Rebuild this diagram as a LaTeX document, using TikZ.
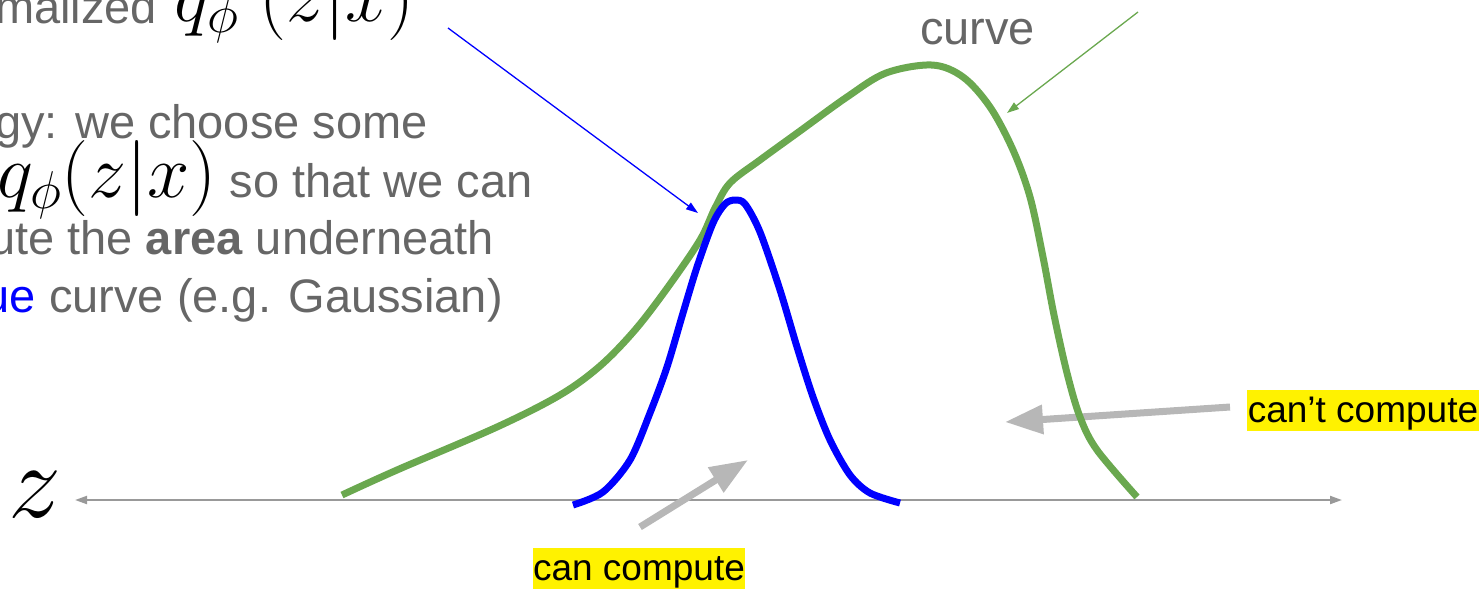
\RequirePackage{fix-cm}
\documentclass[tikz,border=0pt]{standalone}
\usepackage[no-math]{fontspec}
\setmainfont{Liberation Sans}
\usetikzlibrary{arrows.meta}

\definecolor{slidegreen}{HTML}{6AA84F}
\definecolor{slidegray}{HTML}{666666}
\definecolor{arrowgray}{HTML}{B7B7B7}
\definecolor{axisgray}{HTML}{999999}

\newcommand{\bigq}[1]{{\color{black}\fontsize{76}{90}\selectfont$#1$}}

\begin{document}
\begin{tikzpicture}[x=1pt, y=-1pt,
  txt/.style={inner sep=0pt, anchor=base east, text=slidegray, font=\fontsize{47}{56}\selectfont},
  hilite/.style={fill=yellow, inner xsep=0.5pt, inner ysep=0pt, text height=33pt, text depth=8pt, font=\fontsize{37}{44}\selectfont},
  fat/.style={arrowgray, line width=7pt, -{Triangle[length=38pt,width=28pt]}},
  pointer/.style={line width=1.3pt, -{Triangle[length=12pt,width=8pt]}},
  density/.style={line width=7pt, line join=round}]

\useasboundingbox (0,0) rectangle (1482,590);
\clip (0,0) rectangle (1482,590);

% text on the left, cut by the frame
\node[txt, anchor=base west] (lineA) at (-5,23) {malized};
\node[txt] (lineAq) at (415,21) {\bigq{q_\phi\;(z|x)}};
\node[txt] (lineB) at (428,138) {gy: we choose some};
\node[txt] (lineC) at (533,197) {\bigq{q_\phi(z|x)} so that we can};
\node[txt] (lineD) at (494,254) {ute the \textbf{area} underneath};
\node[txt] (lineE) at (503,312) {{\color{blue}ue} curve (e.g. Gaussian)};
\node[txt, anchor=base west] (curvelbl) at (920,44) {curve};

% axis
\node[inner sep=0pt, anchor=base west] (zlbl) at (8,517) {\fontsize{106}{120}\selectfont$z$};
\coordinate (zmin) at (75,500);
\coordinate (zmax) at (1342,500);
\draw[axisgray, line width=2pt, {Triangle[length=12pt,width=8pt]}-{Triangle[length=12pt,width=8pt]}] (zmin) -- (zmax);

% labels and gray arrows
\node[hilite] (canlbl) at (639,568) {can compute};
\node[hilite] (cantlbl) at (1363,410) {can’t compute};
\coordinate (canfrom) at (640,527);
\coordinate (canto) at (748,460);
\coordinate (cantfrom) at (1230,407);
\coordinate (cantto) at (1005,422);
\draw[fat] (canfrom) -- (canto);
\draw[fat] (cantfrom) -- (cantto);

% unnormalized curve
\draw[density, slidegreen] plot[smooth, tension=0.55] coordinates {
  (342,495) (397,470) (497,427) (560,395) (600,366) (635,330) (668,287)
  (700,240) (715,208) (730,183) (760,160) (800,131) (847,97) (886,73)
  (932,65) (963,77) (990,107) (1013,150) (1030,197) (1043,257) (1054,315)
  (1067,373) (1080,417) (1097,450) (1137,497)};

% gaussian
\draw[density, blue] plot[smooth, tension=0.5] coordinates {
  (573,505) (603,492) (630,460) (650,413) (667,367) (683,313) (697,267)
  (713,223) (725,204) (735,200) (745,204) (760,232) (780,290) (797,347)
  (813,397) (830,440) (850,475) (870,493) (900,503)};

% thin pointers
\coordinate (bluefrom) at (448,28);
\coordinate (blueto) at (698,213);
\coordinate (greenfrom) at (1138,12);
\coordinate (greento) at (1007,113);
\draw[pointer, blue] (bluefrom) -- (blueto);
\draw[pointer, slidegreen] (greenfrom) -- (greento);
\end{tikzpicture}
\end{document}
